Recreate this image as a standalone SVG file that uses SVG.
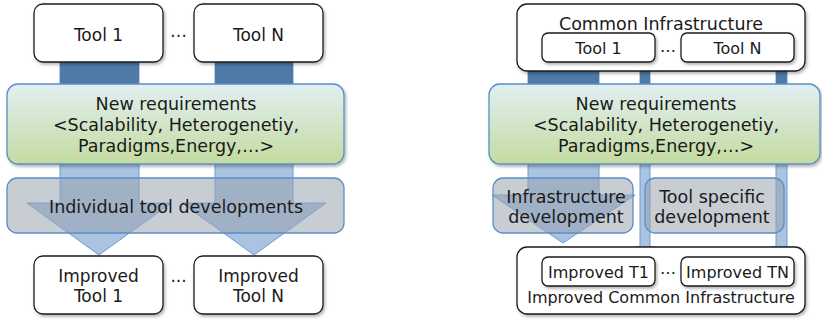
<svg xmlns="http://www.w3.org/2000/svg" width="822" height="320" viewBox="0 0 822 320">
<defs>
<linearGradient id="greenGrad" x1="0" y1="0" x2="0" y2="1">
<stop offset="0" stop-color="#e1eff2"/>
<stop offset="1" stop-color="#c4dba0"/>
</linearGradient>
<filter id="shadow" x="-10%" y="-10%" width="125%" height="135%">
<feDropShadow dx="1.5" dy="2" stdDeviation="1.5" flood-color="#000" flood-opacity="0.3"/>
</filter>
<style>
.box{fill:#fff;stroke:#1a1a1a;stroke-width:1.3;filter:url(#shadow)}
.req{fill:url(#greenGrad);stroke:#5b8fc8;stroke-width:1.3;filter:url(#shadow)}
.dev{fill:#9aa3ae;fill-opacity:0.55;stroke:#5b8fc8;stroke-width:1.3}
.arrow{fill:#a9c3e0;stroke:#6d9dd0;stroke-width:1}
.dark{fill:#4f7aa8}
text{font-family:"DejaVu Sans","Verdana",sans-serif;fill:#1a1a1a;text-anchor:middle}
.t17{font-size:17px}
.t175{font-size:17.5px}
.t16{font-size:16px}
</style>
</defs>

<g id="connectors">
<polygon class="arrow" points="60,62 139,62 139,203 171,203 99,255 27,203 60,203"/>
<rect class="dark" x="60" y="62" width="79" height="22"/>
<polygon class="arrow" points="215,62 293,62 293,203 326,203 254,255 182,203 215,203"/>
<rect class="dark" x="215" y="62" width="78" height="22"/>
<polygon class="arrow" points="528,71 599,71 599,195 635,195 563,243 492,195 528,195"/>
<rect class="dark" x="528" y="71" width="71" height="13"/>
<polygon class="arrow" points="640,62 650,62 650,247 655,247 645,257 635,247 640,247"/>
<rect class="dark" x="640" y="62" width="10" height="22"/>
<polygon class="arrow" points="776,62 787,62 787,247 792,247 781.5,257 771,247 776,247"/>
<rect class="dark" x="776" y="62" width="11" height="22"/>
</g>

<g id="left-tool1">
<rect class="box" x="34" y="4" width="129" height="58" rx="9"/>
<text class="t17" x="98.5" y="41">Tool 1</text>
</g>
<g id="left-dots-top"><text class="t17" x="178.5" y="37">…</text></g>
<g id="left-toolN">
<rect class="box" x="194" y="4" width="129" height="58" rx="9"/>
<text class="t17" x="258.5" y="41">Tool N</text>
</g>

<g id="left-requirements">
<rect class="req" x="7" y="84" width="337" height="80" rx="11"/>
<text class="t175" x="176" y="110">New requirements</text>
<text class="t175" x="176" y="131">&lt;Scalability, Heterogenetiy,</text>
<text class="t175" x="176" y="152">Paradigms,Energy,…&gt;</text>
</g>

<g id="left-development">
<rect class="dev" x="7" y="178" width="337" height="55" rx="10"/>
<text class="t175" x="176" y="213">Individual tool developments</text>
</g>

<g id="left-improved1">
<rect class="box" x="34" y="256" width="129" height="58" rx="9"/>
<text class="t17" x="98.5" y="282">Improved</text>
<text class="t17" x="98.5" y="302">Tool 1</text>
</g>
<g id="left-dots-bottom"><text class="t17" x="178.5" y="282">...</text></g>
<g id="left-improvedN">
<rect class="box" x="194" y="256" width="129" height="58" rx="9"/>
<text class="t17" x="258.5" y="282">Improved</text>
<text class="t17" x="258.5" y="302">Tool N</text>
</g>

<g id="right-common">
<rect class="box" x="517" y="4" width="288" height="67" rx="10"/>
<text class="t175" x="661" y="30">Common Infrastructure</text>
</g>
<g id="right-tool1">
<rect class="box" x="542" y="33" width="113" height="29" rx="6"/>
<text class="t16" x="598.5" y="54">Tool 1</text>
</g>
<g id="right-dots-top"><text class="t16" x="668" y="52">…</text></g>
<g id="right-toolN">
<rect class="box" x="681" y="33" width="113" height="29" rx="6"/>
<text class="t16" x="737.5" y="54">Tool N</text>
</g>

<g id="right-requirements">
<rect class="req" x="489" y="84" width="331" height="80" rx="11"/>
<text class="t175" x="656" y="110">New requirements</text>
<text class="t175" x="656" y="131">&lt;Scalability, Heterogenetiy,</text>
<text class="t175" x="656" y="152">Paradigms,Energy,…&gt;</text>
</g>

<g id="right-infra-dev">
<rect class="dev" x="493" y="178" width="140" height="55" rx="10"/>
<text class="t175" x="566" y="203">Infrastructure</text>
<text class="t175" x="566" y="223">development</text>
</g>
<g id="right-tool-dev">
<rect class="dev" x="645" y="178" width="139" height="55" rx="10"/>
<text class="t175" x="712" y="203">Tool specific</text>
<text class="t175" x="712" y="223">development</text>
</g>

<g id="right-improved-common">
<rect class="box" x="517" y="247" width="288" height="67" rx="10"/>
<text class="t16" x="661" y="303">Improved Common Infrastructure</text>
</g>
<g id="right-improvedT1">
<rect class="box" x="542" y="257" width="113" height="29" rx="6"/>
<text class="t16" x="598.5" y="278">Improved T1</text>
</g>
<g id="right-dots-bottom"><text class="t16" x="668" y="274">…</text></g>
<g id="right-improvedTN">
<rect class="box" x="681" y="257" width="113" height="29" rx="6"/>
<text class="t16" x="737.5" y="278">Improved TN</text>
</g>
</svg>
